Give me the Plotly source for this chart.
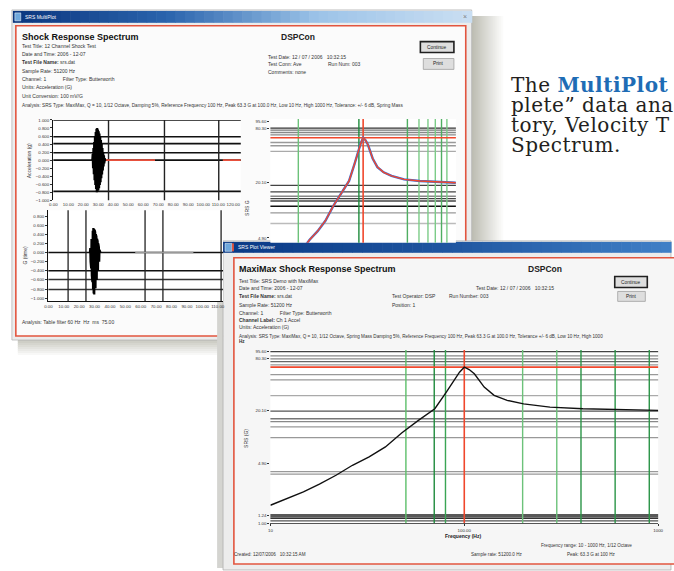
import plotly.graph_objects as go

# ---------------- data ----------------
# Shock response spectrum (frequency Hz, response G) - same spectrum shown in both windows
srs_freq = [10, 12.2, 14.8, 17.9, 21.8, 26.5, 32.3, 39.2, 47.7, 58.0, 70.5, 80.8, 89.1, 94.5,
            100, 106, 112.7, 126.7, 142.5, 166.4, 202.3, 276.7, 409, 604, 1000]
srs_g = [1.62, 1.94, 2.31, 2.83, 3.59, 4.68, 5.84, 7.61, 11.1, 15.4, 21.0, 32.6, 46.4, 55.4,
         63.3, 59.4, 53.0, 37.3, 29.9, 26.2, 23.9, 21.9, 21.0, 20.6, 20.1]
peak_freq = 100
peak_g = 63.3

# tolerance / reference lines of the front (MaxiMax) plot
front_hlines = [95.6, 85.3, 78.8, 73.4, 67.3, 52.0, 45.2, 29.8, 19.7, 16.1, 14.9, 13.0, 9.74,
                3.96, 3.69, 1.25, 1.19, 1.14, 1.07]
front_vlines = [50, 70, 80, 200, 300, 400, 600, 900]
# reference lines of the back SRS plot
back_hlines = [81, 76.9, 72.3, 68.2, 56.1, 51.6, 44.7, 18.8, 15.9, 14.2, 13.4, 12.6, 11.0, 9.3, 7.1]
back_vlines = [20, 90, 300, 400, 500, 600, 700, 800]

srs_tickvals = [95.6, 80.3, 20.1, 4.9, 1.24, 1.0]
srs_ticktext = ["95.60", "80.30", "20.10", "4.90", "1.24", "1.00"]
freq_tickvals = [10, 100, 1000]
freq_ticktext = ["10", "100.00", "1000"]

# acceleration time history (ms, g) - top channel
th1_t = [26.0, 26.25, 26.5, 26.75, 27.0, 27.25, 27.5, 27.75, 28.0, 28.25, 28.5, 28.75,
         29.0, 29.25, 29.5, 29.75, 30.0, 30.25, 30.5, 30.75, 31.0, 31.25, 31.5, 31.75,
         32.0, 32.25, 32.5, 32.75, 33.0, 33.25, 33.5, 33.75, 34.0, 34.25, 34.5, 34.75]
th1_a = [0, 0.15, -0.2, 0.3, -0.35, 0.45, -0.5, 0.6, -0.62, 0.7, -0.72, 0.78,
         -0.8, 0.8, -0.78, 0.76, -0.75, 0.72, -0.7, 0.66, -0.62, 0.58, -0.55, 0.5,
         -0.45, 0.4, -0.36, 0.3, -0.26, 0.2, -0.16, 0.12, -0.08, 0.05, -0.02, 0.0]
th1_base_t = [34.75, 67.8, None, 113, 125]
th1_base_a = [0, 0, None, 0, 0]
th1_hlines = [1.0, 0.58, 0.41, 0.185, 0, -0.78]
th1_vlines = [36.8, 74.1, 110.3]

# second channel time history (ms, g)
th2_t = [27.0, 27.2, 27.4, 27.6, 27.8, 28.0, 28.2, 28.4, 28.6, 28.8, 29.0, 29.2, 29.4, 29.6,
         29.8, 30.0, 30.2, 30.4, 30.6, 30.8, 31.0, 31.2, 31.4, 31.6, 31.8, 32.0, 32.2, 32.4,
         32.6, 32.8, 33.0, 33.2, 33.4, 33.6, 33.8]
th2_a = [0, 0.1, -0.2, 0.2, -0.35, 0.3, -0.5, 0.4, -0.65, 0.48, -0.8, 0.54, -0.9, 0.52,
         -0.92, 0.5, -0.85, 0.45, -0.78, 0.4, -0.7, 0.35, -0.6, 0.3, -0.5, 0.25, -0.4, 0.2,
         -0.3, 0.12, -0.2, 0.06, -0.1, 0.02, 0.0]
th2_base_t = [56.4, 94.2]
th2_base_a = [0, 0]
th2_hlines = [0, -0.4, -0.59, -0.81]
th2_vlines = [12.8, 24.4, 62.8, 74.4, 112.2]

# brochure text lines (as visible, cut at the page edge)
brochure_lines = ["The <b><span style='color:#1e6cb5'>MultiPlot</span></b>",
                  "plete\u201d data ana", "tory, Velocity T", "Spectrum."]

# ---------------- helpers ----------------
W, H = 674, 571
FONT = "Liberation Sans"


def px(x):
    return x / W


def py(y):
    return 1 - y / H


shapes = []
annotations = []


def rect(x0, y0, x1, y1, fill, lc=None, lw=0, opacity=1):
    shapes.append(dict(type="rect", xref="paper", yref="paper", layer="below",
                       x0=px(x0), x1=px(x1), y0=py(y1), y1=py(y0), fillcolor=fill,
                       opacity=opacity,
                       line=dict(width=lw, color=lc if lc else "rgba(0,0,0,0)")))


def hex2rgb(h):
    h = h.lstrip("#")
    return [int(h[i:i + 2], 16) for i in (0, 2, 4)]


def mix(c0, c1, t):
    a, b = hex2rgb(c0), hex2rgb(c1)
    return "rgb(%d,%d,%d)" % tuple(round(a[i] + (b[i] - a[i]) * t) for i in range(3))


def hgrad(x0, x1, y0, y1, stops, n=40):
    step = (x1 - x0) / n
    for i in range(n):
        t = i / (n - 1)
        seg = min(int(t * (len(stops) - 1)), len(stops) - 2)
        lt = t * (len(stops) - 1) - seg
        rect(x0 + i * step, y0, x0 + (i + 1) * step + 0.6, y1, mix(stops[seg], stops[seg + 1], lt))


def vgrad(x0, x1, y0, y1, c0, c1, n=12):
    step = (y1 - y0) / n
    for i in range(n):
        rect(x0, y0 + i * step, x1, y0 + (i + 1) * step + 0.5, mix(c0, c1, i / (n - 1)))


def text(x, y, s, size=5.5, color="#333", bold=False, anchor="left", family=FONT, angle=0,
         yanchor="middle"):
    if bold:
        s = "<b>" + s + "</b>"
    annotations.append(dict(x=px(x), y=py(y), xref="paper", yref="paper", text=s,
                            showarrow=False, xanchor=anchor, yanchor=yanchor, align="left",
                            textangle=angle, borderpad=0,
                            font=dict(size=size, color=color, family=family)))


def button(x0, y0, x1, y1, label, thick=False):
    rect(x0, y0, x1, y1, "#dedede", "#202020" if thick else "#a0a0a0", 1.6 if thick else 0.8)
    text((x0 + x1) / 2, (y0 + y1) / 2, label, size=4.8, color="#222", anchor="center")


def hline(ax, v, color, width=1.2):
    shapes.append(dict(type="line", xref=ax[0] + " domain", yref=ax[1], x0=0, x1=1,
                       y0=v, y1=v, layer="below", line=dict(color=color, width=width)))


def vline(ax, v, color, width=1.2):
    shapes.append(dict(type="line", xref=ax[0], yref=ax[1] + " domain", x0=v, x1=v,
                       y0=0, y1=1, layer="below", line=dict(color=color, width=width)))


RED = "#e2553f"

# ---------------- page decoration ----------------
hgrad(472, 508, 14, 350, ["#b9b9ae", "#ffffff"], n=18)
vgrad(14, 222, 336, 358, "#b9b9ae", "#ffffff", n=11)

# back window
rect(8, 8, 474, 341, "#ececec", "#b8b8b8", 0.8)
hgrad(9, 474, 9, 21, ["#0b377f", "#2a64ad", "#9cc3e8", "#c9def2"], n=48)
rect(11, 11, 17, 19, "#6fa8dc", "#ffffff", 0.5)
text(20, 15, "SRS MultiPlot", size=5, color="#ffffff")
text(467, 15, "×", size=7, color="#808080", anchor="center")
rect(12, 24, 468, 337, "#fbfbfb", RED, 1.6)

# front window
rect(216, 238, 222, 571, "#d4d4d0")
rect(222, 241, 676, 573, "#ececec", "#b0b0b0", 0.8)
hgrad(222, 676, 242, 253, ["#0a3a86", "#1f55a0", "#3f7fc6"], n=45)
rect(224, 243.5, 231, 251.5, "#6fa8dc", "#ffffff", 0.5)
rect(231, 243.5, 233, 251.5, RED)
text(236, 247.5, "SRS Plot Viewer", size=5, color="#ffffff")
rect(233, 258, 680, 567, "#f6f6f6", RED, 1.6)

# plot areas (white)
rect(50, 119, 240, 200, "#ffffff")
rect(45, 210, 222, 302, "#ffffff")
rect(270, 118, 458, 243, "#ffffff")
rect(270, 351, 663, 526, "#ffffff")

# ---------------- texts: back window ----------------
text(17, 35, "Shock Response Spectrum", size=9, color="#111", bold=True)
text(280, 35, "DSPCon", size=8.5, color="#222", bold=True)
back_lines = ["Test Title: 12 Channel Shock Test", "Date and Time: 2006 - 12-07",
              "<b>Test File Name:</b> srs.dat", "Sample Rate: 51200 Hz",
              "Channel: 1            Filter Type: Butterworth", "Units: Acceleration (G)",
              "Unit Conversion: 100 mV/G"]
for yy, s in zip([44, 52, 61, 70, 78, 86, 95], back_lines):
    text(17, yy, s, size=5)
text(17, 104, "Analysis: SRS Type: MaxiMax, Q = 10, 1/12 Octave, Damping 5%, Reference Frequency 100 Hz, "
              "Peak 63.3 G at 100.0 Hz, Low 10 Hz, High 1000 Hz, Tolerance: +/- 6 dB, Spring Mass", size=4.7)
text(267, 55, "Test Date: 12 / 07 / 2006   10:32:15", size=5)
text(267, 63, "Test Conn: Ave", size=5)
text(327, 63, "Run Num: 003", size=5)
text(267, 71, "Comments: none", size=5)
button(422, 40, 456, 51, "Continue", thick=True)
button(425, 57, 456, 68, "Print")
text(17, 323, "Analysis: Table filter 60 Hz  Hz  ms  75.00", size=5)
text(25, 160, "Acceleration (g)", size=5, color="#333", anchor="center", angle=-90)
text(21, 256, "G (time)", size=5, color="#333", anchor="center", angle=-90)
text(246, 208, "SRS G", size=5, color="#333", anchor="center", angle=-90)

# ---------------- texts: front window ----------------
text(237, 269, "MaxiMax Shock Response Spectrum", size=9, color="#111", bold=True)
text(530, 269, "DSPCon", size=8.5, color="#222", bold=True)
front_lines = ["Test Title: SRS Demo with MaxiMax", "Date and Time: 2006 - 12-07",
               "<b>Test File Name:</b> srs.dat", "Sample Rate: 51200 Hz",
               "Channel: 1            Filter Type: Butterworth", "<b>Channel Label:</b> Ch 1 Accel",
               "Units: Acceleration (G)"]
for yy, s in zip([281, 289, 297, 306, 314, 321, 328], front_lines):
    text(237, yy, s, size=5)
text(237, 337, "Analysis: SRS Type: MaxiMax, Q = 10, 1/12 Octave, Spring Mass Damping 5%, Reference Frequency 100 Hz, "
               "Peak 63.3 G at 100.0 Hz, Tolerance +/- 6 dB, Low 10 Hz, High 1000", size=4.6)
text(237, 343, "Hz", size=4.6, bold=True)
text(392, 297, "Test Operator: DSP", size=5)
text(450, 297, "Run Number: 003", size=5)
text(392, 306, "Position: 1", size=5)
text(477, 289, "Test Date: 12 / 07 / 2006   10:32:15", size=5)
button(619, 277, 652, 288, "Continue", thick=True)
button(622, 292, 650, 302, "Print")
text(465, 539, "Frequency (Hz)", size=5, color="#222", anchor="center", bold=True)
text(245, 440, "SRS (G)", size=5, color="#333", anchor="center", angle=-90)
text(543, 548, "Frequency range: 10 - 1000 Hz, 1/12 Octave", size=4.6)
text(232, 557, "Created: 12/07/2006   10:32:15 AM", size=4.6)
text(472, 557, "Sample rate: 51200.0 Hz", size=4.6)
text(570, 557, "Peak: 63.3 G at 100 Hz", size=4.6)

# ---------------- brochure text ----------------
SERIF = "DejaVu Serif"
span = "<span style='font-size:20px;letter-spacing:0.5px'>%s</span>"
text(513, 114, "<br>".join(span % s for s in brochure_lines), size=15.4, color="#231f20",
     family=SERIF)

# ---------------- reference lines ----------------
for v in th1_hlines:
    hline(("x", "y"), v, "#111", 1.6)
for v in th1_vlines:
    vline(("x", "y"), v, "#222", 1.4)
for v, c in zip(th2_hlines, ["#111", "#111", "#333", "#333"]):
    hline(("x2", "y2"), v, c, 1.5)
for v in th2_vlines:
    vline(("x2", "y2"), v, "#222", 1.3)

back_h_colors = ["#333", "#777", "#888", "#888", "#999", "#999", "#aaa", "#444", "#444",
                 "#888", "#444", "#444", "#111", "#999", "#bbb"]
for v, c in zip(back_hlines, back_h_colors):
    hline(("x3", "y3"), v, c, 1.4)
back_v_colors = ["#6cc27a", "#1e8b3c", "#4fae62", "#7ccc88", "#7ccc88", "#7ccc88", "#4fae62", "#7ccc88"]
for v, c in zip(back_vlines, back_v_colors):
    vline(("x3", "y3"), v, c, 1.4)
hline(("x3", "y3"), peak_g, "#f0472c", 1.6)
vline(("x3", "y3"), peak_freq, "#f0472c", 1.6)

front_h_colors = ["#444", "#888", "#888", "#666", "#999", "#999", "#999", "#aaa", "#555",
                  "#777", "#888", "#999", "#999", "#999", "#999", "#222", "#222", "#333", "#555"]
for v, c in zip(front_hlines, front_h_colors):
    hline(("x4", "y4"), v, c, 1.3)
front_v_colors = ["#5cbf6a", "#1e8b3c", "#3aa554", "#6cc27a", "#6cc27a", "#2a9446", "#2a9446", "#2a9446"]
for v, c in zip(front_vlines, front_v_colors):
    vline(("x4", "y4"), v, c, 1.4)
hline(("x4", "y4"), peak_g, "#f0472c", 1.6)
vline(("x4", "y4"), peak_freq, "#f0472c", 1.6)

# ---------------- traces ----------------
fig = go.Figure()
fig.add_trace(go.Scatter(x=th1_base_t, y=th1_base_a, mode="lines", line=dict(color="#e8503c", width=1.6),
                         xaxis="x", yaxis="y"))
fig.add_trace(go.Scatter(x=th1_t, y=th1_a, mode="lines", line=dict(color="#000", width=2.2),
                         xaxis="x", yaxis="y"))
fig.add_trace(go.Scatter(x=th2_base_t, y=th2_base_a, mode="lines", line=dict(color="#9a9a9a", width=1.6),
                         xaxis="x2", yaxis="y2"))
fig.add_trace(go.Scatter(x=th2_t, y=th2_a, mode="lines", line=dict(color="#000", width=2.2),
                         xaxis="x2", yaxis="y2"))
fig.add_trace(go.Scatter(x=srs_freq, y=srs_g, mode="lines", line=dict(color="#3a6fd8", width=2.4),
                         xaxis="x3", yaxis="y3"))
fig.add_trace(go.Scatter(x=srs_freq, y=srs_g, mode="lines", line=dict(color="#f0472c", width=1.4),
                         xaxis="x3", yaxis="y3"))
fig.add_trace(go.Scatter(x=srs_freq, y=srs_g, mode="lines", line=dict(color="#111", width=1.4),
                         xaxis="x4", yaxis="y4"))
fig.update_traces(showlegend=False, hoverinfo="skip")

tick_font = dict(size=4.4, color="#333", family=FONT)
base_x = dict(showgrid=False, zeroline=False, tickfont=tick_font, ticks="", fixedrange=True, tickangle=0)
base_y = dict(showgrid=False, zeroline=False, tickfont=tick_font, ticks="outside", ticklen=2,
              tickcolor="#333", showline=True, linecolor="#111", linewidth=1.4, fixedrange=True)

fig.update_layout(
    width=W, height=H, margin=dict(l=0, r=0, t=0, b=0),
    paper_bgcolor="#ffffff", plot_bgcolor="rgba(0,0,0,0)",
    xaxis=dict(base_x, domain=[px(50), px(240)], range=[0, 125], dtick=10, tickformat=".2f",
               anchor="y"),
    yaxis=dict(base_y, domain=[py(200), py(119)], range=[-1, 1], dtick=0.2, tickformat=".3f", anchor="x"),
    xaxis2=dict(base_x, domain=[px(45), px(222)], range=[0, 113.46], dtick=10, tickformat=".2f",
                anchor="y2", showline=True, linecolor="#111", linewidth=1.2),
    yaxis2=dict(base_y, domain=[py(302), py(210)], range=[-1.07, 0.93], dtick=0.2, tickformat=".3f",
                anchor="x2"),
    xaxis3=dict(base_x, type="log", domain=[px(270), px(458)], range=[1, 3], showticklabels=False,
                anchor="y3"),
    yaxis3=dict(base_y, type="log", domain=[py(243), py(118)], range=[0.636, 2.01],
                tickvals=srs_tickvals[:4], ticktext=srs_ticktext[:4], showline=False, anchor="x3"),
    xaxis4=dict(base_x, type="log", domain=[px(270), px(663)], range=[1, 3], tickvals=freq_tickvals,
                ticktext=freq_ticktext, ticks="outside", ticklen=2, tickcolor="#333",
                showline=True, linecolor="#555", linewidth=1, anchor="y4"),
    yaxis4=dict(base_y, type="log", domain=[py(526), py(351)], range=[0, 2.0],
                tickvals=srs_tickvals, ticktext=srs_ticktext, showline=False, anchor="x4"),
    shapes=shapes, annotations=annotations,
)

fig.write_html("out.html", config={"displayModeBar": False},
               post_script="document.body.style.margin='0';document.body.style.overflow='hidden';")
